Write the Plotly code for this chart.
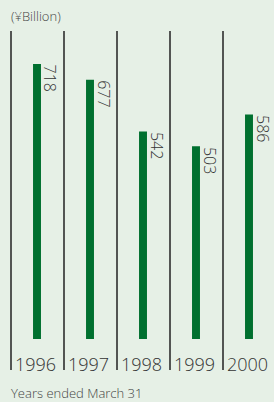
import plotly.graph_objects as go

years = ["1996", "1997", "1998", "1999", "2000"]
values = [718, 677, 542, 503, 586]
value_labels = ["718", "677", "542", "503", "586"]

bg = "#e6f0e6"
bar_color = "#00702f"
text_color = "#333333"
font_family = "Open Sans, Lato, Arial, sans-serif"

xs = list(range(len(years)))
fig = go.Figure()
fig.add_trace(go.Bar(x=xs, y=values, width=0.15, marker=dict(color=bar_color, line=dict(width=0)),
                     hoverinfo="skip"))

# separators
for i in xs:
    fig.add_shape(type="line", xref="x", yref="paper", x0=i - 26/53, x1=i - 26/53, y0=0, y1=1,
                  line=dict(color="#222222", width=1.5))
    fig.add_annotation(x=i + 0.075, y=values[i], xref="x", yref="y", text=value_labels[i],
                       textangle=90, xanchor="left", yanchor="top", showarrow=False, xshift=-3,
                       yshift=1,
                       font=dict(size=16, color=text_color, family=font_family, weight=300))
    fig.add_annotation(x=i - 26/53, y=0, xref="x", yref="paper", text=years[i],
                       xanchor="left", yanchor="bottom", showarrow=False, xshift=2, yshift=-8,
                       font=dict(size=18, color=text_color, family=font_family, weight=300))

fig.add_annotation(x=0, y=1, xref="paper", yref="paper", text="(¥Billion)", xanchor="left",
                   yanchor="bottom", showarrow=False, xshift=9, yshift=4,
                   font=dict(size=13, color="#444444", family=font_family, weight=300))
fig.add_annotation(x=0, y=0, xref="paper", yref="paper", text="Years ended March 31", xanchor="left",
                   yanchor="top", showarrow=False, xshift=9, yshift=-12,
                   font=dict(size=13, color="#444444", family=font_family, weight=300))

fig.update_layout(
    width=274, height=402,
    margin=dict(l=0, r=0, t=31, b=32),
    paper_bgcolor=bg, plot_bgcolor=bg,
    showlegend=False,
    xaxis=dict(range=[-37/53, 237/53], visible=False, fixedrange=True),
    yaxis=dict(range=[-80.9, 804.2], visible=False, fixedrange=True),
)
fig.write_html("out.html", config={"displayModeBar": False},
               post_script="document.body.style.margin='0';document.body.style.background='#e6f0e6';")
